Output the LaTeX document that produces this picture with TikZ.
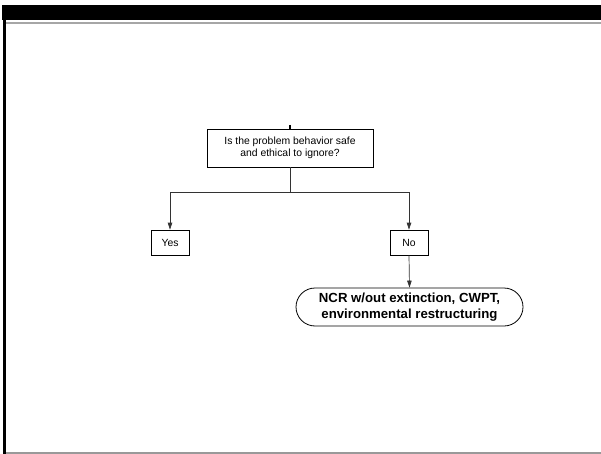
\documentclass[tikz,border=0pt]{standalone}
\usepackage{fontspec}
\setmainfont{Liberation Sans}
\usetikzlibrary{shapes.misc,arrows.meta}
\begin{document}
\begin{tikzpicture}[x=1pt,y=-1pt,
  box/.style={draw=black,line width=0.6pt,fill=white,inner sep=0pt,font=\fontsize{10.4}{12.5}\selectfont,align=center},
  term/.style={draw=black,line width=0.8pt,fill=white,rounded rectangle,inner sep=0pt,font=\bfseries\fontsize{13.2}{16.5}\selectfont,align=center},
  link/.style={draw=black!80,line width=0.7pt},
  arr/.style={link,-{Triangle[length=7pt,width=4.5pt]}}]
  % page and frame
  \useasboundingbox (0,0) rectangle (601,454);
  \fill[white] (0,0) rectangle (601,454);
  \fill[black] (2,5) rectangle (601,20);
  \fill[black] (3,5) rectangle (6,454);
  \fill[black!35] (6,22.5) rectangle (601,24);
  \fill[black!40] (6,451.5) rectangle (601,453.5);
  % decision
  \node[box,minimum width=166pt,minimum height=38pt] (q) at (290,148) {Is the problem behavior safe\\and ethical to ignore?};
  \coordinate (qtop) at (290,125);
  \draw[black,line width=1.3pt] (qtop) -- (q.north);
  \coordinate (split) at (290,192);
  \node[box,minimum width=38pt,minimum height=25pt] (yes) at (170,242.5) {Yes};
  \node[box,minimum width=38pt,minimum height=25pt] (no) at (409,242.5) {No};
  \node[term,minimum width=227pt,minimum height=38pt] (res) at (409.5,307) {NCR w/out extinction, CWPT,\\environmental restructuring};
  \draw[link] (q.south) -- (split);
  \draw[arr] (split) -| (yes.north);
  \draw[arr] (split) -| (no.north);
  \draw[arr] (no.south) -- (res.north);
\end{tikzpicture}
\end{document}
